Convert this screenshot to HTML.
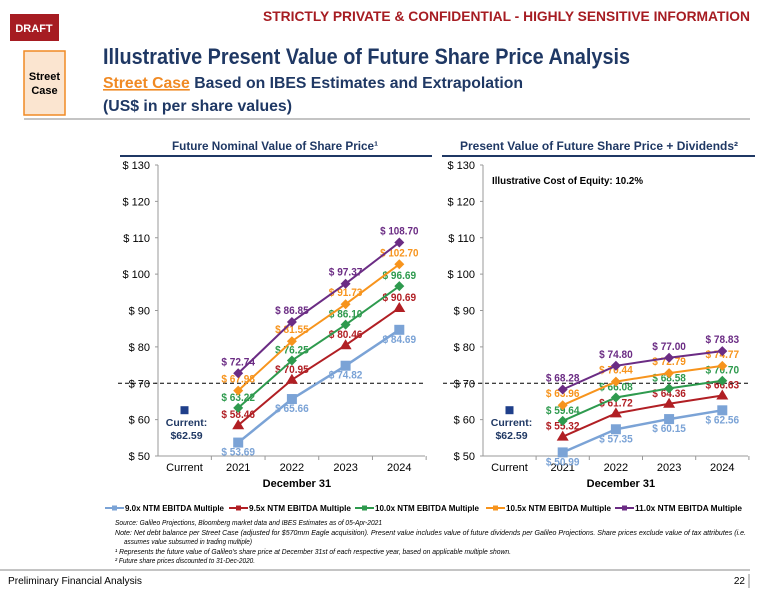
<!DOCTYPE html>
<html><head><meta charset="utf-8">
<style>
body{margin:0;background:#fff;width:780px;height:603px;overflow:hidden;font-family:"Liberation Sans",sans-serif;}
svg text{font-family:"Liberation Sans",sans-serif;}
</style></head>
<body>
<svg id="page" width="780" height="603" viewBox="0 0 780 603">
<rect x="10" y="14" width="49" height="27" fill="#a61c22"/>
<text x="34" y="32" fill="#fff" font-size="11" font-weight="bold" text-anchor="middle">DRAFT</text>
<text x="263" y="21" fill="#a61c22" font-size="14" font-weight="bold" textLength="487" lengthAdjust="spacingAndGlyphs">STRICTLY PRIVATE &amp; CONFIDENTIAL - HIGHLY SENSITIVE INFORMATION</text>
<rect x="24" y="51" width="41" height="64" fill="#fbe5d0" stroke="#f08a24" stroke-width="1.5"/>
<text x="44.5" y="80" font-size="11" font-weight="bold" text-anchor="middle" fill="#000"><tspan x="44.5">Street</tspan><tspan x="44.5" dy="14">Case</tspan></text>
<text x="103" y="64" font-size="22" font-weight="bold" fill="#1f3864" textLength="527" lengthAdjust="spacingAndGlyphs">Illustrative Present Value of Future Share Price Analysis</text>
<text x="103" y="88" font-size="16" font-weight="bold" fill="#1f3864" textLength="420" lengthAdjust="spacingAndGlyphs"><tspan fill="#f08a24" text-decoration="underline">Street Case</tspan> Based on IBES Estimates and Extrapolation</text>
<text x="103" y="111" font-size="16" font-weight="bold" fill="#1f3864" textLength="189" lengthAdjust="spacingAndGlyphs">(US$ in per share values)</text>
<line x1="24" y1="119" x2="750" y2="119" stroke="#888" stroke-width="1"/>
<text x="172" y="150" font-size="12" font-weight="bold" fill="#1f3864" textLength="206" lengthAdjust="spacingAndGlyphs">Future Nominal Value of Share Price¹</text>
<line x1="120" y1="156" x2="432" y2="156" stroke="#1f3864" stroke-width="2"/>
<text x="460" y="150" font-size="12" font-weight="bold" fill="#1f3864" textLength="278" lengthAdjust="spacingAndGlyphs">Present Value of Future Share Price + Dividends²</text>
<line x1="442" y1="156" x2="755" y2="156" stroke="#1f3864" stroke-width="2"/>
<text x="492" y="184" font-size="10.5" font-weight="bold" fill="#000" textLength="151" lengthAdjust="spacingAndGlyphs">Illustrative Cost of Equity: 10.2%</text>
<g id="charts"></g>
<g id="legend"></g>
<text x="115" y="525" font-size="7.5" font-style="italic" fill="#000" textLength="267" lengthAdjust="spacingAndGlyphs">Source: Galileo Projections, Bloomberg market data and IBES Estimates as of 05-Apr-2021</text>
<text x="115" y="535" font-size="7.5" font-style="italic" fill="#000" textLength="631" lengthAdjust="spacingAndGlyphs">Note: Net debt balance per Street Case (adjusted for $570mm Eagle acquisition). Present value includes value of future dividends per Galileo Projections. Share prices exclude value of tax attributes (i.e.</text>
<text x="124" y="544" font-size="7.5" font-style="italic" fill="#000" textLength="128" lengthAdjust="spacingAndGlyphs">assumes value subsumed in trading multiple)</text>
<text x="115" y="554" font-size="7.5" font-style="italic" fill="#000" textLength="396" lengthAdjust="spacingAndGlyphs">¹ Represents the future value of Galileo's share price at December 31st of each respective year, based on applicable multiple shown.</text>
<text x="115" y="563" font-size="7.5" font-style="italic" fill="#000" textLength="140" lengthAdjust="spacingAndGlyphs">² Future share prices discounted to 31-Dec-2020.</text>
<line x1="0" y1="570" x2="750" y2="570" stroke="#888" stroke-width="1"/>
<text x="8" y="584" font-size="10" fill="#000" textLength="134" lengthAdjust="spacingAndGlyphs">Preliminary Financial Analysis</text>
<text x="745" y="584" font-size="10" fill="#000" text-anchor="end">22</text>
<line x1="749" y1="574" x2="749" y2="588" stroke="#888"/>
</svg>
<script>
const categories = ["2021","2022","2023","2024"];
const seriesNames = ["9.0x NTM EBITDA Multiple","9.5x NTM EBITDA Multiple","10.0x NTM EBITDA Multiple","10.5x NTM EBITDA Multiple","11.0x NTM EBITDA Multiple"];
const seriesColors = ["#7ba3d6","#b11f24","#2e9a4e","#f7941d","#6b2c84"];
const nominal9_0 = [53.69,65.66,74.82,84.69];
const nominal9_5 = [58.46,70.95,80.46,90.69];
const nominal10_0 = [63.22,76.25,86.10,96.69];
const nominal10_5 = [67.98,81.55,91.73,102.70];
const nominal11_0 = [72.74,86.85,97.37,108.70];
const pv9_0 = [50.99,57.35,60.15,62.56];
const pv9_5 = [55.32,61.72,64.36,66.63];
const pv10_0 = [59.64,66.08,68.58,70.70];
const pv10_5 = [63.96,70.44,72.79,74.77];
const pv11_0 = [68.28,74.80,77.00,78.83];
const currentPrice = 62.59;
const targetPrice = 70;
const yTicks = [50,60,70,80,90,100,110,120,130];

const NS="http://www.w3.org/2000/svg";
function mk(tag,attrs,parent){const e=document.createElementNS(NS,tag);for(const k in attrs)e.setAttribute(k,attrs[k]);parent.appendChild(e);return e;}
const charts=document.getElementById('charts');
const markers=["square","triangle","diamond","diamond","diamond"];
const labelDy=[13,-7,-7,-8,-8];

function drawChart(prefix, axisX, firstX, step, data, rightEdge){
  const g=mk('g',{},charts);
  
  
  const y=v=>456-(v-50)*(291/80);
  const x=i=>firstX+step*(i+1);
  const ax=mk('line',{x1:axisX,y1:165,x2:axisX,y2:456,stroke:'#999','stroke-width':1},g);
  
  
  const bx=mk('line',{x1:axisX,y1:456,x2:rightEdge,y2:456,stroke:'#999','stroke-width':1},g);
  
  
  yTicks.forEach(t=>{
    const tk=mk('line',{x1:axisX-3,y1:y(t),x2:axisX,y2:y(t),stroke:'#999'},g);
    
    
    const tl=mk('text',{x:axisX-8,y:y(t)+4,'font-size':11,'text-anchor':'end',fill:'#000'},g);
    tl.textContent='$ '+t;
    
    
  });
  for(let i=0;i<=4;i++){
    const xx=firstX+step*(i+0.5);
    const tk=mk('line',{x1:xx,y1:456,x2:xx,y2:460,stroke:'#999'},g);
    
    
  }
  const cats=["Current"].concat(categories);
  cats.forEach((c,i)=>{
    const tl=mk('text',{x:firstX+step*i,y:471,'font-size':11,'text-anchor':'middle',fill:'#000'},g);
    tl.textContent=c;
    
    
  });
  const xt=mk('text',{x:(x(0)+x(2))/2+5,y:487,'font-size':11,'font-weight':'bold','text-anchor':'middle',fill:'#000'},g);
  xt.textContent='December 31';
  
  
  const dl=mk('line',{x1:axisX-40,y1:y(targetPrice),x2:rightEdge,y2:y(targetPrice),stroke:'#000','stroke-dasharray':'4,3','stroke-width':1},g);
  
  
  const cm=mk('rect',{x:firstX-4,y:y(currentPrice)-4,width:8,height:8,fill:'#1f3f8a'},g);
  
  
  const ct=mk('text',{x:firstX+2,y:y(currentPrice)+16,'font-size':10.5,'font-weight':'bold','text-anchor':'middle',fill:'#1f3864'},g);
  ct.innerHTML='<tspan x="'+(firstX+2)+'">Current:</tspan><tspan x="'+(firstX+2)+'" dy="13">$'+currentPrice.toFixed(2)+'</tspan>';
  
  
  data.forEach((vals,s)=>{
    const col=seriesColors[s];
    const pts=vals.map((v,i)=>x(i)+','+y(v)).join(' ');
    const pl=mk('polyline',{points:pts,fill:'none',stroke:col,'stroke-width':s===0?2.5:2},g);
    
    
    vals.forEach((v,i)=>{
      const cx=x(i),cy=y(v);let m;
      if(markers[s]==='square') m=mk('rect',{x:cx-5,y:cy-5,width:10,height:10,fill:col},g);
      else if(markers[s]==='triangle') m=mk('polygon',{points:`${cx},${cy-6} ${cx+6},${cy+4} ${cx-6},${cy+4}`,fill:col},g);
      else m=mk('polygon',{points:`${cx},${cy-5} ${cx+5},${cy} ${cx},${cy+5} ${cx-5},${cy}`,fill:col},g);
      
      
      const txt='$ '+v.toFixed(2);
      const lb=mk('text',{x:cx,y:cy+labelDy[s],'font-size':11,'font-weight':'bold','text-anchor':'middle',fill:col,textLength:txt.length*4.8,lengthAdjust:'spacingAndGlyphs'},g);
      lb.textContent=txt;
      
      
    });
  });
}
drawChart('left',158,184.5,53.7,[nominal9_0,nominal9_5,nominal10_0,nominal10_5,nominal11_0],425);
drawChart('right',483,509.5,53.2,[pv9_0,pv9_5,pv10_0,pv10_5,pv11_0],748);

const lg=document.getElementById('legend');
const legendX=[105,229,355,486,615];
const legendW=[99,102,104,105,107];
seriesNames.forEach((n,s)=>{
  const g=mk('g',{},lg);
  
  
  const lx=legendX[s];
  mk('line',{x1:lx,y1:508,x2:lx+19,y2:508,stroke:seriesColors[s],'stroke-width':2},g);
  mk('rect',{x:lx+7,y:505.5,width:5,height:5,fill:seriesColors[s]},g);
  const t=mk('text',{x:lx+20,y:511,'font-size':8.5,'font-weight':'bold',fill:'#000',textLength:legendW[s],lengthAdjust:'spacingAndGlyphs'},g);
  t.textContent=n;
});
</script>
</body></html>
